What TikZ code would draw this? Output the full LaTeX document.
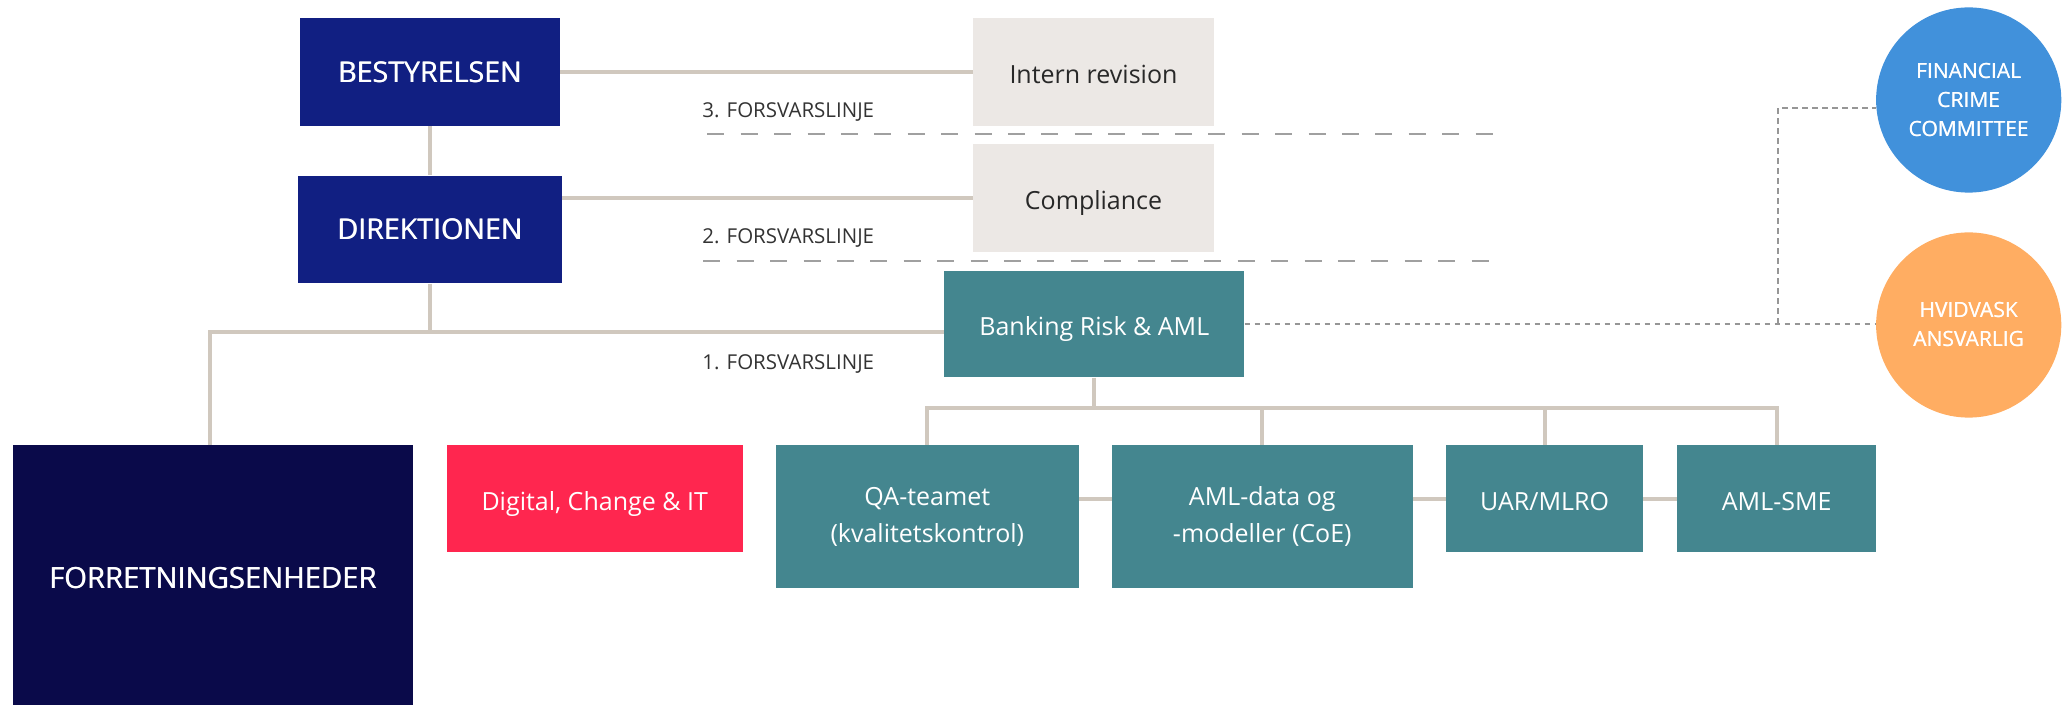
\documentclass[tikz,border=0pt]{standalone}
\usepackage{fontspec}
\setmainfont{Open Sans}
\newcommand\thickA[1]{\rlap{#1}\kern0.3pt #1}
\newcommand\thickB[1]{\rlap{#1}\kern0.2pt #1}
\usetikzlibrary{calc}
\definecolor{navyA}{RGB}{17,31,130}
\definecolor{navyB}{RGB}{10,10,74}
\definecolor{greybox}{RGB}{236,232,229}
\definecolor{tealbox}{RGB}{68,134,143}
\definecolor{redbox}{RGB}{255,38,79}
\definecolor{fcblue}{RGB}{65,145,219}
\definecolor{haorange}{RGB}{255,173,98}
\definecolor{connc}{RGB}{208,200,190}
\definecolor{sepc}{RGB}{160,160,160}
\definecolor{dotc}{RGB}{150,150,150}
\definecolor{darktext}{RGB}{40,40,40}
\definecolor{lbltext}{RGB}{51,51,51}
\begin{document}
\begin{tikzpicture}[x=0.5pt,y=-0.5pt,
  box/.style={rectangle, inner sep=0pt, anchor=center},
  bodyfont/.style={font=\fontsize{12.5}{18.25}\selectfont},
  oneline/.style={text height=12pt, text depth=0.5pt},
  headbox/.style={box, fill=navyA, text=white, font=\fontsize{14.3}{17}\selectfont},
  greyb/.style={box, fill=greybox, text=darktext, bodyfont, oneline},
  tealb/.style={box, fill=tealbox, text=white, bodyfont, align=center},
  circ/.style={circle, inner sep=0pt, minimum size=92.6pt, text=white, align=center, font=\fontsize{10.5}{14.5}\selectfont},
  conn/.style={draw=connc, line width=2pt, line join=miter},
  sepline/.style={draw=sepc, line width=1.2pt, dash pattern=on 8.5pt off 8.2pt},
  dotl/.style={draw=dotc, line width=0.9pt, dash pattern=on 2.75pt off 2.25pt},
  lbl/.style={inner sep=0pt, text=lbltext, font=\fontsize{10.25}{12}\selectfont}]
\useasboundingbox (0,0) rectangle (2071,705);

% boxes
\node[headbox, minimum width=130pt, minimum height=53.7pt] (best) at (430,72) {\thickA{BESTYRELSEN}};
\node[headbox, minimum width=132pt, minimum height=53.8pt] (dir) at (430,229.5) {\thickA{DIREKTIONEN}};
\node[greyb, minimum width=120.5pt, minimum height=53.7pt] (intern) at (1093.5,72) {Intern revision};
\node[greyb, minimum width=120.5pt, minimum height=53.6pt] (compl) at (1093.5,198) {Compliance};
\node[tealb, oneline, minimum width=150pt, minimum height=53.3pt] (bank) at (1094.3,324) {Banking Risk \& AML};
\node[box, fill=navyB, text=white, font=\fontsize{14.6}{17}\selectfont, minimum width=200.3pt, minimum height=132.7pt] (forr) at (213,578) {\thickA{FORRETNINGSENHEDER}};
\node[box, fill=redbox, text=white, bodyfont, oneline, minimum width=148pt, minimum height=53.35pt] (dig) at (594.7,498.7) {Digital, Change \& IT};
\node[tealb, minimum width=151.3pt, minimum height=71.35pt] (qa) at (927.3,516.7) {QA-teamet\\(kvalitetskontrol)};
\node[tealb, minimum width=150.25pt, minimum height=71.35pt] (amld) at (1262.3,516.7) {AML-data og\\-modeller (CoE)};
\node[tealb, oneline, minimum width=98.5pt, minimum height=53.35pt] (uar) at (1544.5,498.7) {UAR/MLRO};
\node[tealb, oneline, minimum width=99.7pt, minimum height=53.35pt] (sme) at (1776.7,498.7) {AML-SME};
\node[circ, fill=fcblue] (fc) at (1968.7,100) {\thickB{FINANCIAL}\\\thickB{CRIME}\\\thickB{COMMITTEE}};
\node[circ, fill=haorange] (ha) at (1968.7,325) {\thickB{HVIDVASK}\\\thickB{ANSVARLIG}};

% labels
\node[lbl, anchor=base west] (l3) at (702,117.3) {3. FORSVARSLINJE};
\node[lbl, anchor=base west] (l2) at (702,243.3) {2. FORSVARSLINJE};
\node[lbl, anchor=base west] (l1) at (702,369.7) {1. FORSVARSLINJE};

% separator lines
\draw[sepline] (707.3,134.3) -- (1497,134.3);
\draw[sepline] (703.3,261) -- (1493,261);

% connectors
\draw[conn] (best) -- (dir);
\draw[conn] (best.east) -- (intern.west);
\draw[conn] (compl.west -| dir.east) -- (compl.west);
\coordinate (busL) at (210,332);
\draw[conn] (dir.south) -- (dir.south |- busL);
\draw[conn] (forr.north -| busL) -- (busL) -- (busL -| bank.west);
\coordinate (busR) at (1094,408.5);
\draw[conn] (bank.south) -- (bank.south |- busR);
\draw[conn] (qa.north) |- (busR -| sme.north) -- (sme.north);
\draw[conn] (amld.north) -- (amld.north |- busR);
\draw[conn] (uar.north) -- (uar.north |- busR);
\draw[conn] (qa.east |- uar.west) -- (amld.west |- uar.west);
\draw[conn] (amld.east |- uar.west) -- (uar.west);
\draw[conn] (uar.east) -- (sme.west);

% dotted links
\coordinate (dv) at (1778,324);
\draw[dotl] (bank.east) -- (bank.east -| ha.west);
\draw[dotl] (bank.east -| dv) |- (fc.185);
\end{tikzpicture}
\end{document}
